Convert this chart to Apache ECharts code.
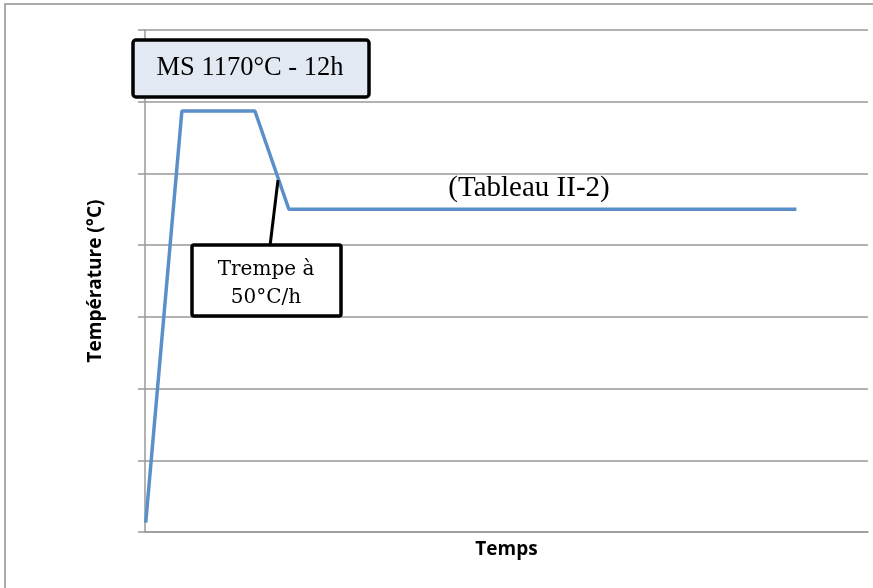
<!DOCTYPE html>
<html>
<head>
<meta charset="utf-8">
<script src="https://cdn.jsdelivr.net/npm/echarts@6/dist/echarts.min.js"></script>
<style>html,body{margin:0;padding:0;background:#fff;}#c{width:873px;height:588px;}</style>
</head>
<body>
<div id="c"></div>
<script>
const times = [0.1, 5.1, 15.2, 19.9, 90.1];
const temps = [0.13, 5.87, 5.87, 4.5, 4.5];
const yTitle = 'Température (°C)';
const xTitle = 'Temps';
const noteMain = 'MS 1170°C - 12h';
const noteQuench = 'Trempe à\n50°C/h';
const noteTable = '(Tableau II-2)';

const chart = echarts.init(document.getElementById('c'), null, {renderer: 'canvas'});
chart.setOption({
  animation: false,
  backgroundColor: '#fff',
  grid: {left: 145, right: 5, top: 30, bottom: 56},
  xAxis: {
    type: 'value', min: 0, max: 100,
    name: xTitle, nameLocation: 'middle', nameGap: 8,
    nameTextStyle: {fontFamily: 'Open Sans', fontWeight: 'bold', fontSize: 19, color: '#000', verticalAlign: 'top'},
    axisLine: {show: true, lineStyle: {color: '#999', width: 1.5}},
    axisTick: {show: false}, axisLabel: {show: false}, splitLine: {show: false}
  },
  yAxis: {
    type: 'value', min: 0, max: 7, interval: 1,
    name: yTitle, nameLocation: 'middle', nameGap: 40,
    nameTextStyle: {fontFamily: 'Open Sans', fontWeight: 'bold', fontSize: 19, color: '#000'},
    axisLine: {show: true, lineStyle: {color: '#999', width: 1.5}},
    axisTick: {show: true, length: 7, lineStyle: {color: '#999', width: 1.5}},
    axisLabel: {show: false},
    splitLine: {show: true, lineStyle: {color: '#999', width: 1.5}}
  },
  series: [{
    type: 'line',
    data: times.map((t, i) => [t, temps[i]]),
    symbol: 'none',
    lineStyle: {color: '#5b8fca', width: 3.5},
    z: 3
  }],
  graphic: [
    {type: 'rect', shape: {x: 5, y: 4, width: 900, height: 600}, style: {fill: 'none', stroke: '#aaa', lineWidth: 2}, z: 0, silent: true},
    {type: 'line', shape: {x1: 270, y1: 246, x2: 278, y2: 180}, style: {stroke: '#000', lineWidth: 3}, z: 10},
    {type: 'rect', shape: {x: 133, y: 40, width: 236, height: 57, r: 3}, style: {fill: '#e3e9f3', stroke: '#000', lineWidth: 3.5}, z: 11},
    {type: 'text', x: 250, y: 68, style: {text: noteMain, font: '26.5px "Liberation Serif"', fill: '#000', textAlign: 'center', textVerticalAlign: 'middle'}, z: 12},
    {type: 'rect', shape: {x: 192, y: 245, width: 149, height: 71, r: 2}, style: {fill: '#fff', stroke: '#000', lineWidth: 3.5}, z: 11},
    {type: 'text', x: 266, y: 284, style: {text: noteQuench, font: '20px "DejaVu Serif"', lineHeight: 28, fill: '#000', textAlign: 'center', textVerticalAlign: 'middle'}, z: 12},
    {type: 'text', x: 529, y: 188, style: {text: noteTable, font: '29px "Liberation Serif"', fill: '#000', textAlign: 'center', textVerticalAlign: 'middle'}, z: 12}
  ]
});
</script>
</body>
</html>
